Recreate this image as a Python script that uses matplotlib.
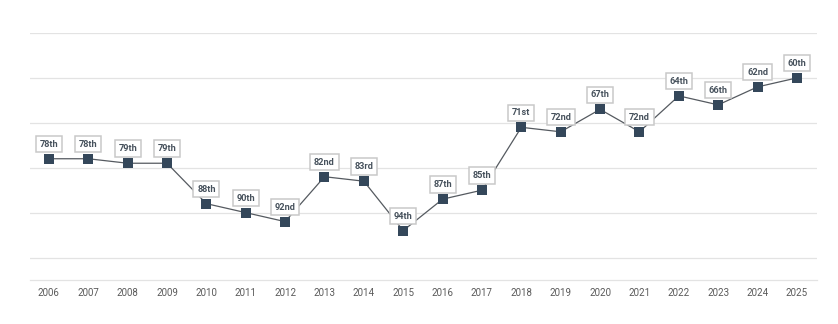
import matplotlib.pyplot as plt

years = list(range(2006, 2026))
ranks = [78, 78, 79, 79, 88, 90, 92, 82, 83, 94, 87, 85, 71, 72, 67, 72, 64, 66, 62, 60]
labels = ["78th", "78th", "79th", "79th", "88th", "90th", "92nd", "82nd", "83rd", "94th",
          "87th", "85th", "71st", "72nd", "67th", "72nd", "64th", "66th", "62nd", "60th"]
grid_ranks = [50, 60, 70, 80, 90, 100]

plt.rcParams['font.family'] = ['Roboto', 'DejaVu Sans']

fig = plt.figure(figsize=(8.38, 3.24), dpi=100)
ax = fig.add_axes([30 / 838, 1 - 280 / 324, 787 / 838, 247 / 324])

for g in grid_ranks:
    ax.axhline(g, color="#e3e3e3", lw=0.9, zorder=0)

ax.plot(years, ranks, color="#555a60", lw=0.9, zorder=2)
ax.scatter(years, ranks, marker="s", s=58, color="#34475a", zorder=3, linewidths=0)

for x, y, t in zip(years, ranks, labels):
    ax.annotate(t, (x, y), xytext=(0, 10.5), textcoords="offset points",
                ha="center", va="center", fontsize=6.6, fontweight="bold",
                color="#46515c", annotation_clip=False, zorder=4,
                bbox=dict(boxstyle="square,pad=0.4", fc="white", ec="#c9c9c9", lw=1.1))

ax.set_xlim(2005.52, 2025.51)
ax.set_ylim(105, 50)
ax.set_xticks(years)
ax.set_xticklabels([str(y) for y in years], fontsize=7, color="#5a5a5a")
ax.set_yticks([])
ax.tick_params(axis="x", length=0, pad=6)
for side in ["top", "left", "right"]:
    ax.spines[side].set_visible(False)
ax.spines["bottom"].set_color("#e3e3e3")
ax.spines["bottom"].set_linewidth(0.9)

fig.savefig("out.png", dpi=100, facecolor="white")
